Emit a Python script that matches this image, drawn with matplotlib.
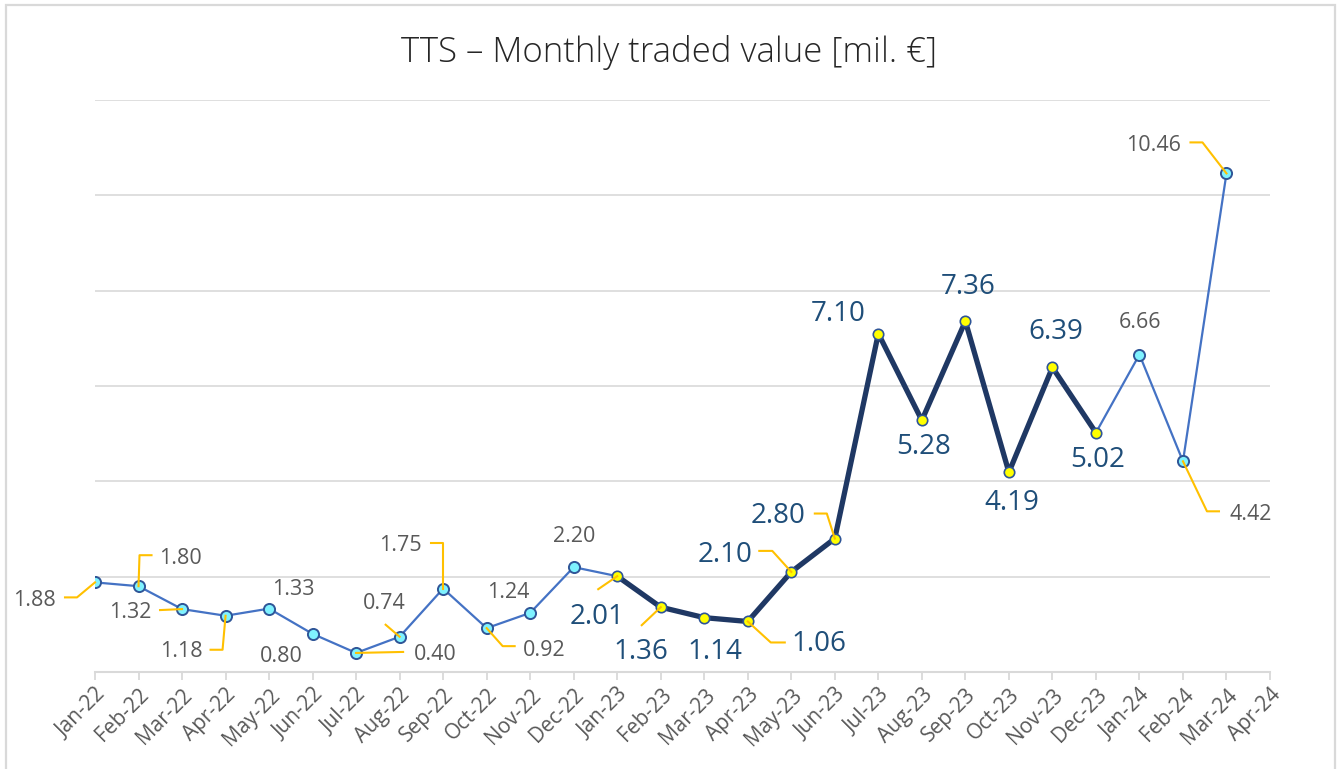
import matplotlib
matplotlib.use("Agg")
import matplotlib.pyplot as plt
from matplotlib.patches import Rectangle
from matplotlib.lines import Line2D

# ---------------- data ----------------
months = ["Jan-22", "Feb-22", "Mar-22", "Apr-22", "May-22", "Jun-22", "Jul-22",
          "Aug-22", "Sep-22", "Oct-22", "Nov-22", "Dec-22", "Jan-23", "Feb-23",
          "Mar-23", "Apr-23", "May-23", "Jun-23", "Jul-23", "Aug-23", "Sep-23",
          "Oct-23", "Nov-23", "Dec-23", "Jan-24", "Feb-24", "Mar-24", "Apr-24"]
values = [1.88, 1.80, 1.32, 1.18, 1.33, 0.80, 0.40, 0.74, 1.75, 0.92, 1.24, 2.20,
          2.01, 1.36, 1.14, 1.06, 2.10, 2.80, 7.10, 5.28, 7.36, 4.19, 6.39, 5.02,
          6.66, 4.42, 10.46]
highlight_start = 12   # Jan-23
highlight_end = 23     # Dec-23 (inclusive)
title = "TTS – Monthly traded value [mil. €]"

# ---------------- label layout (pixel offsets from point; +y = down) ----------------
label_offsets = [(-61, 18), (42, -28), (-52, 3), (-44, 36), (24, -19), (-31, 23),
                 (79, 2), (-15, -33), (-43, -43), (58, 22), (-22, -20), (0, -31),
                 (-20, 41), (-20, 45), (11, 34), (71, 23), (-66, -17), (-57, -23),
                 (-40, -20), (2, 27), (3, -34), (3, 31), (3, -35), (2, 27),
                 (1, -32), (68, 53), (-73, -28)]
leaders = {
    0: [(-30, 15), (-18, 15), (0, 0)],
    1: [(13, -31), (1, -31), (0, 0)],
    2: [(-22, 1), (0, 0)],
    3: [(-15, 34), (-3, 34), (0, 0)],
    6: [(0, 0), (47, -1)],
    7: [(-14, -12), (0, 0)],
    8: [(-12, -46), (0, -46), (0, 0)],
    9: [(0, 0), (16, 18), (28, 18)],
    12: [(-19, 13), (0, 0)],
    13: [(-19, 18), (0, 0)],
    15: [(0, 0), (23, 21), (37, 21)],
    16: [(-32, -21), (-19, -21), (0, 0)],
    17: [(-20, -25), (-8, -25), (0, 0)],
    25: [(0, 0), (24, 50), (36, 50)],
    26: [(-36, -31), (-24, -31), (0, 0)],
}

W, H = 1343, 769
fig = plt.figure(figsize=(W / 100, H / 100), dpi=100)
ax = fig.add_axes([95 / W, 1 - 672 / H, (1270 - 95) / W, (672 - 100) / H])

plt.rcParams['font.family'] = ['Open Sans', 'DejaVu Sans']
FONT = ['Open Sans', 'DejaVu Sans']

x = list(range(len(values)))
ax.set_xlim(0, len(months) - 1)
ax.set_ylim(0, 12)

# grid
ax.set_yticks(range(0, 13, 2))
ax.yaxis.grid(True, color="#D9D9D9", lw=1.2)
ax.set_axisbelow(True)
ax.tick_params(axis='y', left=False, labelleft=False)
for s in ["left", "right", "top"]:
    ax.spines[s].set_visible(False)
ax.spines["bottom"].set_color("#D9D9D9")
ax.spines["bottom"].set_linewidth(1.5)

ax.set_xticks(range(len(months)))
ax.set_xticklabels(months, rotation=45, ha="right", va="top", rotation_mode="anchor",
                   fontsize=15, color="#595959", family=FONT)
ax.tick_params(axis='x', direction='out', length=6, width=1.3, color="#D9D9D9", pad=3)

# lines
ax.plot(x, values, color="#4472C4", lw=1.6, zorder=3)
hx = x[highlight_start:highlight_end + 1]
hv = values[highlight_start:highlight_end + 1]
ax.plot(hx, hv, color="#1F3864", lw=3.8, zorder=4, solid_joinstyle="round")

# markers
norm_idx = [i for i in x if not (highlight_start <= i <= highlight_end)]
ax.plot([x[i] for i in norm_idx], [values[i] for i in norm_idx], ls="none", marker="o",
        ms=8, mfc="#7FF2FF", mec="#2F5597", mew=1.4, zorder=6)
ax.plot(hx, hv, ls="none", marker="o", ms=7.5, mfc="#FFFF00", mec="#2F5597",
        mew=1.2, zorder=6)

fig.canvas.draw()

# leader lines (display coordinates)
for i, path in leaders.items():
    px, py = ax.transData.transform((x[i], values[i]))
    xs = [px + dx for dx, dy in path]
    ys = [py - dy for dx, dy in path]
    fig.add_artist(Line2D(xs, ys, transform=None, color="#FFC000", lw=1.5, zorder=5))

# data labels
for i, v in enumerate(values):
    dx, dy = label_offsets[i]
    hl = highlight_start <= i <= highlight_end
    ax.annotate(f"{v:.2f}", xy=(x[i], v), xytext=(dx * 0.72, -dy * 0.72),
                textcoords="offset points", ha="center", va="center",
                fontsize=20 if hl else 15.5, color="#1F4E79" if hl else "#595959",
                family=FONT, zorder=7)

# title
fig.text(669 / W, 1 - 52 / H, title, ha="center", va="center", fontsize=25,
         color="#262626", family=FONT, fontweight="light")

# chart border
fig.add_artist(Rectangle((6 / W, -0.05), (1335 - 6) / W, 1 - 4.5 / H + 0.05,
                         transform=fig.transFigure, fill=False, edgecolor="#D9D9D9",
                         lw=1.6))

fig.savefig("out.png", dpi=100)
